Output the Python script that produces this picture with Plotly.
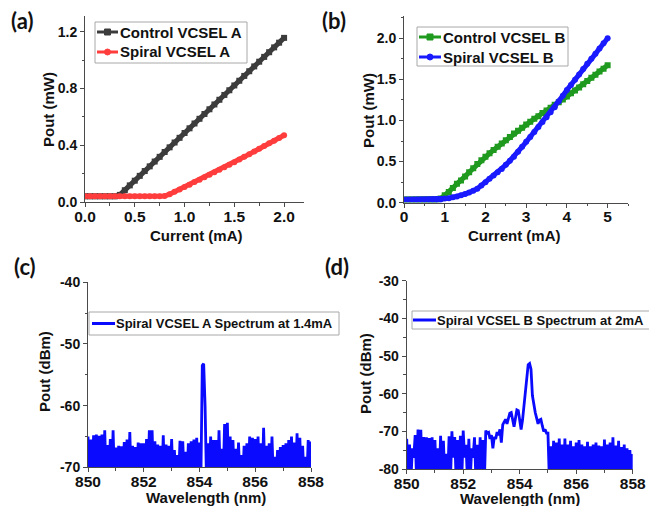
import plotly.graph_objects as go

# The page body adds an 8px margin; positions below are given in window pixels.
OFF = 8
W, H = 649, 498

# ---------------- data ----------------
# (a) L-I curves, VCSEL A
current_a = [round(0.05 * i, 2) for i in range(41)]
control_a = [0.04, 0.04, 0.04, 0.04, 0.04, 0.04, 0.04, 0.05, 0.083, 0.117,
             0.150, 0.184, 0.218, 0.251, 0.285, 0.318, 0.352, 0.385, 0.419, 0.452,
             0.486, 0.519, 0.553, 0.586, 0.620, 0.653, 0.687, 0.720, 0.754, 0.787,
             0.821, 0.854, 0.888, 0.921, 0.955, 0.988, 1.022, 1.055, 1.089, 1.122,
             1.156]
spiral_a = [0.04, 0.04, 0.04, 0.04, 0.04, 0.04, 0.04, 0.04, 0.04, 0.04,
            0.04, 0.04, 0.04, 0.04, 0.04, 0.04, 0.042, 0.055, 0.072, 0.088,
            0.105, 0.122, 0.140, 0.157, 0.175, 0.192, 0.210, 0.227, 0.245, 0.262,
            0.280, 0.299, 0.318, 0.337, 0.356, 0.375, 0.394, 0.413, 0.432, 0.451,
            0.470]

# (b) L-I curves, VCSEL B
current_b = [round(0.1 * i, 1) for i in range(51)]
control_b = [0.04, 0.04, 0.04, 0.04, 0.04, 0.04, 0.04, 0.04, 0.04, 0.05,
             0.09, 0.13, 0.18, 0.23, 0.27, 0.32, 0.37, 0.42, 0.47, 0.515,
             0.56, 0.60, 0.64, 0.68, 0.72, 0.76, 0.80, 0.84, 0.875, 0.91,
             0.95, 0.985, 1.02, 1.05, 1.09, 1.12, 1.155, 1.19, 1.22, 1.255,
             1.29, 1.33, 1.365, 1.40, 1.44, 1.48, 1.52, 1.555, 1.595, 1.63,
             1.67]
spiral_b = [0.04, 0.04, 0.04, 0.04, 0.04, 0.04, 0.04, 0.04, 0.04, 0.04,
            0.05, 0.055, 0.065, 0.075, 0.09, 0.105, 0.125, 0.145, 0.17, 0.21,
            0.25, 0.29, 0.33, 0.37, 0.41, 0.46, 0.51, 0.56, 0.62, 0.68,
            0.74, 0.80, 0.86, 0.92, 0.98, 1.04, 1.10, 1.16, 1.23, 1.30,
            1.37, 1.43, 1.495, 1.56, 1.625, 1.69, 1.75, 1.81, 1.875, 1.94,
            2.00]

# (c), (d) optical spectra (wavelength grid 850-858 nm, 0.05 nm step)
wavelength = [round(850 + 0.05 * i, 2) for i in range(161)]
spec_c = [-65.0, -72, -65.5, -72, -64.8, -72, -64.7, -72, -64.9, -72,
          -64.7, -72, -64.0, -72, -66.4, -72, -65.4, -72, -64.0, -72,
          -66.8, -72, -66.5, -72, -66.6, -72, -65.9, -72, -65.5, -72,
          -64.3, -72, -66.5, -72, -66.7, -72, -66.0, -72, -66.1, -72,
          -66.1, -72, -65.4, -72, -64.0, -72, -64.0, -72, -65.8, -72,
          -66.3, -72, -66.5, -72, -64.8, -72, -66.3, -72, -66.5, -72,
          -65.4, -72, -67.2, -72, -68.0, -72, -65.7, -72, -65.8, -72,
          -67.5, -72, -66.1, -72, -65.8, -72, -65.5, -72, -65.2, -72,
          -66.0, -72, -53.5, -53.2, -60.0, -72, -66.1, -72, -65.0, -72,
          -65.6, -72, -65.6, -72, -64.0, -72, -67.0, -72, -63.0, -72,
          -62.8, -72, -65.0, -72, -65.6, -72, -67.0, -72, -66.0, -72,
          -68.0, -72, -66.5, -72, -66.1, -72, -65.0, -72, -65.2, -72,
          -65.4, -72, -65.0, -72, -66.1, -72, -63.6, -72, -66.5, -72,
          -66.1, -72, -65.0, -72, -68.3, -72, -67.2, -72, -66.7, -72,
          -66.4, -72, -66.1, -72, -65.6, -72, -65.0, -72, -66.0, -72,
          -64.5, -72, -65.2, -72, -66.5, -72, -68.3, -72, -65.6, -72,
          -65.8]
spec_d = [-72.0, -83, -73.5, -83, -74.5, -77, -71.0, -83, -69.5, -83,
          -69.6, -83, -71.5, -83, -71.6, -83, -71.8, -83, -71.6, -83,
          -72.3, -83, -74.5, -83, -71.2, -83, -72.5, -83, -76.0, -83,
          -71.3, -83, -70.0, -77, -71.5, -83, -72.3, -83, -71.2, -83,
          -69.8, -77, -73.6, -83, -72.0, -83, -74.5, -77, -71.6, -83,
          -73.6, -83, -71.6, -83, -72.3, -83, -69.8, -70.5, -70.3, -72.0,
          -71.0, -74.5, -71.5, -72.0, -70.2, -71.0, -69.5, -73.0, -68.2, -67.5,
          -66.8, -68.0, -66.5, -65.2, -65.0, -66.5, -68.8, -66.5, -64.3, -64.5,
          -66.5, -69.5, -67.0, -63.5, -59.5, -55.0, -52.3, -52.0, -53.5, -60.5,
          -63.0, -65.0, -66.5, -68.0, -67.0, -66.8, -68.5, -70.0, -69.5, -70.5,
          -70.5, -83, -74.0, -83, -72.5, -83, -73.0, -83, -71.9, -83,
          -73.5, -83, -71.9, -83, -73.5, -83, -72.5, -83, -74.0, -83,
          -73.0, -83, -72.3, -83, -73.5, -83, -74.0, -83, -72.8, -83,
          -74.0, -83, -73.5, -83, -73.0, -83, -73.8, -83, -74.0, -83,
          -72.2, -83, -73.5, -83, -73.0, -83, -71.6, -83, -73.8, -83,
          -72.5, -83, -74.2, -83, -73.5, -83, -74.5, -83, -75.0, -83,
          -76.0]

# series names and tick labels
names_a = ["Control VCSEL A", "Spiral VCSEL A"]
names_b = ["Control VCSEL B", "Spiral VCSEL B"]
name_c = "Spiral VCSEL A Spectrum at 1.4mA"
name_d = "Spiral VCSEL B Spectrum at 2mA"
tick_c_vals = [-70, -60, -50, -40]
tick_c_text = ["-70", "-60", "-50", "-40"]
tick_d_vals = [-80, -70, -60, -50, -40, -30]
tick_d_text = ["-80", "-70", "-60", "-50", "-40", "-30"]
tick_wl_vals = [850, 852, 854, 856, 858]
tick_wl_text = ["850", "852", "854", "856", "858"]

# ---------------- styling helpers ----------------
FONT = "Liberation Sans"
AXC = "#4a4a4a"
TXT = "#111111"
C_GRAY, C_RED, C_GREEN, C_BLUE, C_SPEC = "#3c3c3c", "#ff3d3d", "#1f9a1f", "#1a1aff", "#0a0aff"


def fx(p):
    return (p - OFF) / W


def fy(p):
    return 1 - (p - OFF) / H


def dom_x(p0, p1):
    return [fx(p0), fx(p1)]


def dom_y(top, bottom):
    return [fy(bottom), fy(top)]


def axis(domain, rng, anchor, dtick=None, minor=None, fmt=None,
         tickvals=None, ticktext=None, tick0=None, fsize=14, ticks="outside"):
    d = dict(domain=domain, range=rng, anchor=anchor, showline=True,
             linecolor=AXC, linewidth=1, ticks=ticks, ticklen=4,
             tickwidth=1, tickcolor=AXC, showgrid=False, zeroline=False,
             fixedrange=True,
             tickfont=dict(family=FONT, size=fsize, color=TXT, weight="bold"))
    if tickvals is not None:
        d.update(tickmode="array", tickvals=tickvals, ticktext=ticktext)
    else:
        d.update(tickmode="linear", dtick=dtick, tick0=tick0 if tick0 is not None else 0)
    if fmt:
        d["tickformat"] = fmt
    if minor is not None and ticks:
        d["minor"] = dict(ticks="outside", ticklen=2.5, tickwidth=1, tickcolor=AXC,
                          dtick=minor, tick0=tick0 if tick0 is not None else rng[0],
                          showgrid=False)
    return d


def tick_overlay(over, rng, anchor, dtick=None, minor=None, tickvals=None, tick0=None):
    """Companion axis that draws only the outside tick marks of an x axis."""
    d = dict(overlaying=over, range=rng, anchor=anchor, side="bottom",
             showline=False, showticklabels=False, ticks="outside", ticklen=4,
             tickwidth=1, tickcolor=AXC, showgrid=False, zeroline=False,
             fixedrange=True)
    if tickvals is not None:
        d.update(tickmode="array", tickvals=tickvals)
    else:
        d.update(tickmode="linear", dtick=dtick, tick0=tick0 if tick0 is not None else 0)
    d["minor"] = dict(ticks="outside", ticklen=2.5, tickwidth=1, tickcolor=AXC,
                      dtick=minor, tick0=tick0 if tick0 is not None else rng[0],
                      showgrid=False)
    return d


fig = go.Figure()

# (a)
fig.add_trace(go.Scatter(x=current_a, y=control_a, name=names_a[0],
                         mode="lines+markers", xaxis="x", yaxis="y",
                         line=dict(color=C_GRAY, width=5),
                         marker=dict(symbol="square", size=6, color=C_GRAY)))
fig.add_trace(go.Scatter(x=current_a, y=spiral_a, name=names_a[1],
                         mode="lines+markers", xaxis="x", yaxis="y",
                         line=dict(color=C_RED, width=5),
                         marker=dict(symbol="circle", size=6, color=C_RED)))
# (b)
fig.add_trace(go.Scatter(x=current_b, y=control_b, name=names_b[0],
                         mode="lines+markers", xaxis="x2", yaxis="y2",
                         line=dict(color=C_GREEN, width=5),
                         marker=dict(symbol="square", size=6, color=C_GREEN)))
fig.add_trace(go.Scatter(x=current_b, y=spiral_b, name=names_b[1],
                         mode="lines+markers", xaxis="x2", yaxis="y2",
                         line=dict(color=C_BLUE, width=5),
                         marker=dict(symbol="circle", size=6, color=C_BLUE)))
# (c)
fig.add_trace(go.Scatter(x=wavelength, y=spec_c, name=name_c,
                         mode="lines", xaxis="x3", yaxis="y3",
                         line=dict(color=C_SPEC, width=2.8)))
# (d)
fig.add_trace(go.Scatter(x=wavelength, y=spec_d, name=name_d,
                         mode="lines", xaxis="x4", yaxis="y4",
                         line=dict(color=C_SPEC, width=2.8)))
# empty traces that register the tick-mark companion axes
for xa, ya in (("x5", "y"), ("x6", "y2"), ("x7", "y3"), ("x8", "y4")):
    fig.add_trace(go.Scatter(x=[], y=[], xaxis=xa, yaxis=ya, showlegend=False,
                             hoverinfo="skip"))

fig.update_layout(
    width=W, height=H,
    margin=dict(l=0, r=0, t=0, b=0, autoexpand=False),
    paper_bgcolor="white", plot_bgcolor="white",
    showlegend=False,
    xaxis=axis(dom_x(85, 304), [0, 2.2], "y", dtick=0.5, fmt=".1f", fsize=15.5, ticks=""),
    yaxis=axis(dom_y(16, 202), [0, 1.31], "x", dtick=0.4, minor=0.2, fmt=".1f"),
    xaxis2=axis(dom_x(404, 628), [0, 5.5], "y2", dtick=1, fsize=15.5, ticks=""),
    yaxis2=axis(dom_y(16, 202.7), [0, 2.27], "x2", dtick=0.5, minor=0.25, fmt=".1f"),
    xaxis3=axis(dom_x(88, 311), [850, 858], "y3", tick0=850,
                tickvals=tick_wl_vals, ticktext=tick_wl_text, fsize=15.5, ticks=""),
    yaxis3=axis(dom_y(282.3, 467.3), [-70, -40], "x3", minor=5, tick0=-70,
                tickvals=tick_c_vals, ticktext=tick_c_text),
    xaxis4=axis(dom_x(406.7, 632.7), [850, 858], "y4", tick0=850,
                tickvals=tick_wl_vals, ticktext=tick_wl_text, fsize=15.5, ticks=""),
    yaxis4=axis(dom_y(280.7, 469), [-80, -30], "x4", minor=5, tick0=-80,
                tickvals=tick_d_vals, ticktext=tick_d_text),
    xaxis5=tick_overlay("x", [0, 2.2], "y", dtick=0.5, minor=0.25),
    xaxis6=tick_overlay("x2", [0, 5.5], "y2", dtick=1, minor=0.5),
    xaxis7=tick_overlay("x3", [850, 858], "y3", minor=1, tick0=850, tickvals=tick_wl_vals),
    xaxis8=tick_overlay("x4", [850, 858], "y4", minor=1, tick0=850, tickvals=tick_wl_vals),
)


def ann(text, x, y, size, angle=0, family=FONT, xanchor="center"):
    return dict(text=text, x=fx(x), y=fy(y), xref="paper", yref="paper",
                xanchor=xanchor, yanchor="middle", showarrow=False,
                textangle=angle,
                font=dict(family=family, size=size, color=TXT, weight="bold"))


annotations = [
    ann("(a)", 22, 21, 22, family="Lato"),
    ann("(b)", 334, 21, 22, family="Lato"),
    ann("(c)", 25, 266, 22, family="Lato"),
    ann("(d)", 337, 266, 22, family="Lato"),
    ann("Current (mA)", 196, 236, 15),
    ann("Pout (mW)", 48, 110, 15, angle=-90),
    ann("Current (mA)", 514, 235, 15),
    ann("Pout (mW)", 368, 110, 15, angle=-90),
    ann("Wavelength (nm)", 206, 497, 15),
    ann("Pout (dBm)", 44, 372, 15, angle=-90),
    ann("Wavelength (nm)", 520, 498, 15),
    ann("Pout (dBm)", 365, 374, 15, angle=-90),
]
shapes = []


def legend_box(x0, y0, x1, y1):
    shapes.append(dict(type="rect", xref="paper", yref="paper",
                       x0=fx(x0), x1=fx(x1), y0=fy(y1), y1=fy(y0),
                       line=dict(color="#a8a8a8", width=1), fillcolor="white",
                       layer="above"))


def legend_item(text, y, lx0, lx1, tx, color, size, symbol=None, lw=3):
    shapes.append(dict(type="line", xref="paper", yref="paper",
                       x0=fx(lx0), x1=fx(lx1), y0=fy(y), y1=fy(y),
                       line=dict(color=color, width=lw), layer="above"))
    if symbol:
        mx, r = (lx0 + lx1) / 2, 3
        shapes.append(dict(type="rect" if symbol == "square" else "circle",
                           xref="paper", yref="paper",
                           x0=fx(mx - r), x1=fx(mx + r), y0=fy(y + r), y1=fy(y - r),
                           line=dict(color=color, width=1), fillcolor=color,
                           layer="above"))
    annotations.append(ann(text, tx, y, size, xanchor="left"))


# legend (a)
legend_box(95, 22, 247, 63)
legend_item(names_a[0], 32, 97, 118, 118, C_GRAY, 15, "square")
legend_item(names_a[1], 52, 97, 118, 118, C_RED, 15, "circle")
# legend (b)
legend_box(417, 27, 568, 66)
legend_item(names_b[0], 37, 419, 441, 441, C_GREEN, 15, "square")
legend_item(names_b[1], 57, 419, 441, 441, C_BLUE, 15, "circle")
# legend (c)
legend_box(89, 312, 339, 335)
legend_item(name_c, 323.5, 92, 115, 114, C_SPEC, 13)
# legend (d)
legend_box(412, 311, 660, 329)
legend_item(name_d, 320, 413, 436, 435, C_SPEC, 13)

fig.update_layout(annotations=annotations, shapes=shapes)

fig.write_html("out.html")
